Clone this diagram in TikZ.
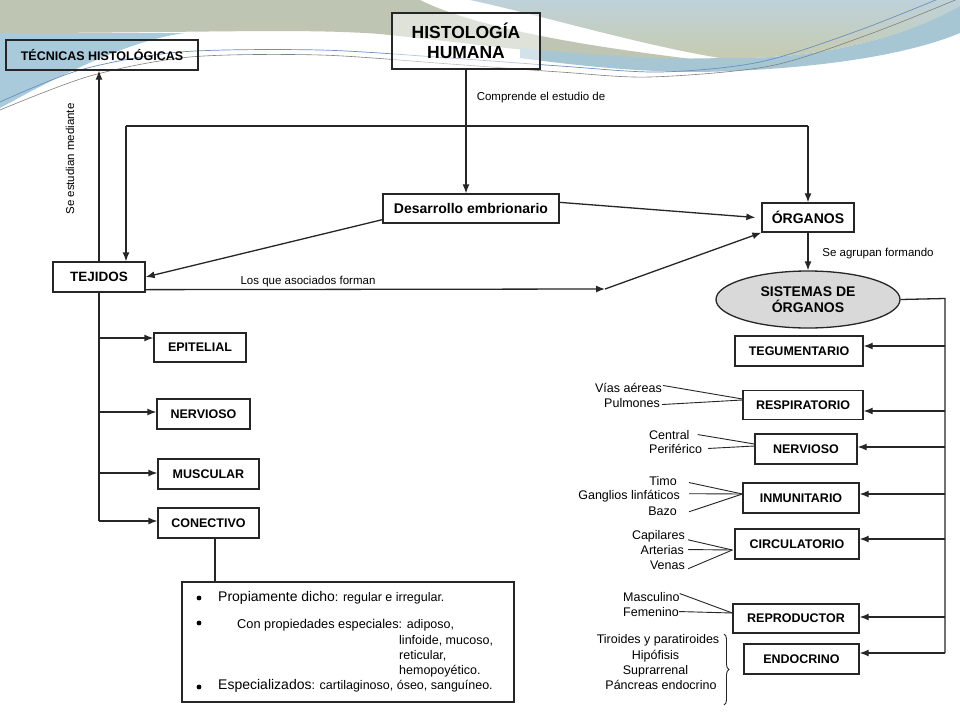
\documentclass[tikz,border=0pt]{standalone}
\usepackage{fontspec}
\setmainfont{Liberation Sans}
\usetikzlibrary{arrows.meta,shapes.geometric,decorations.pathreplacing,calc}
\definecolor{bggray}{HTML}{BEC5B2}
\definecolor{bgtop}{HTML}{BFD2DA}
\definecolor{bgbot}{HTML}{C6CBAE}
\definecolor{bgblue}{HTML}{A6C6D3}
\definecolor{bgleft}{HTML}{A8CADB}
\definecolor{wline}{HTML}{6B8FC0}
\begin{document}
\begin{tikzpicture}[x=1pt,y=-1pt,
  box/.style={draw=black!85, line width=1.3pt, fill=white, inner sep=0pt, align=center,
    font=\bfseries\fontsize{12.5}{14}\selectfont},
  arr/.style={-{Latex[length=9pt,width=7pt]}, line width=1.3pt, draw=black!85},
  ln/.style={line width=1.3pt, draw=black!85},
  thinln/.style={line width=0.9pt, draw=black!85},
  lbl/.style={inner sep=0pt, font=\fontsize{11.5}{13}\selectfont},
  sub/.style={inner sep=0pt, font=\fontsize{12.5}{14}\selectfont}]
\useasboundingbox (0,0) rectangle (960,720);
\fill[white] (0,0) rectangle (960,720);
% background decoration
\fill[bggray] (0,0) -- (420,0) .. controls (480,30) and (600,48) .. (700,60)
  .. controls (600,62) and (480,44) .. (380,34) .. controls (300,28) and (200,33) .. (0,33) -- cycle;
\shade[top color=bgtop, bottom color=bgbot] (470,0) -- (960,0) -- (960,6)
  .. controls (890,45) and (800,60) .. (720,58) .. controls (640,45) and (540,15) .. (470,0) -- cycle;
\fill[bgblue] (520,48) .. controls (600,56) and (660,60) .. (720,58) .. controls (800,60) and (890,45) .. (960,6)
  -- (960,33) .. controls (900,58) and (800,70) .. (700,72) .. controls (640,72) and (580,66) .. (520,58) -- cycle;
\fill[bgleft] (0,33) -- (185,33) .. controls (130,40) and (60,75) .. (0,108) -- cycle;
\draw[wline, line width=0.7pt] plot[smooth] coordinates {(0,102) (80,70) (180,52) (320,50) (450,58) (560,66) (660,72) (760,62) (860,30) (965,-12)};
\draw[gray, line width=0.6pt] plot[smooth] coordinates {(0,110) (90,76) (190,57) (320,55) (450,64) (560,72) (650,77) (770,66) (870,34) (965,-4)};

% main nodes
\node[box, minimum width=148pt, minimum height=56pt, fill opacity=0.5, text opacity=1,
  font=\bfseries\fontsize{17.5}{20.5}\selectfont] (hist) at (466,41) {HISTOLOGÍA\\HUMANA};
\node[box, fill=none, minimum width=192pt, minimum height=30pt] (tec) at (102,55) {TÉCNICAS HISTOLÓGICAS};
\node[box, minimum width=176pt, minimum height=29pt, font=\bfseries\fontsize{14}{16}\selectfont] (des) at (471,208.5) {Desarrollo embrionario};
\node[box, minimum width=92pt, minimum height=29pt, font=\bfseries\fontsize{14}{16}\selectfont] (org) at (808,217.5) {ÓRGANOS};
\node[box, minimum width=92pt, minimum height=30pt, font=\bfseries\fontsize{13.5}{16}\selectfont] (tej) at (99,277) {TEJIDOS};
\node[ellipse, draw=black!85, line width=1.3pt, fill=black!15, minimum width=184pt, minimum height=57pt,
  inner sep=0pt, align=center, font=\bfseries\fontsize{14}{16.5}\selectfont] (sis) at (808,299.5) {SISTEMAS DE\\ÓRGANOS};

% tejidos
\node[box, minimum width=92pt, minimum height=29pt] (epi) at (200,347.5) {EPITELIAL};
\node[box, minimum width=93pt, minimum height=30pt] (nerA) at (203.5,414) {NERVIOSO};
\node[box, minimum width=101pt, minimum height=30pt] (mus) at (208.5,474) {MUSCULAR};
\node[box, minimum width=101pt, minimum height=30pt] (con) at (208.5,523) {CONECTIVO};

% sistemas
\node[box, minimum width=128pt, minimum height=30pt] (teg) at (799,351) {TEGUMENTARIO};
\node[box, minimum width=120pt, minimum height=29pt] (resp) at (803,405) {RESPIRATORIO};
\node[box, minimum width=102pt, minimum height=30pt] (nerB) at (806,449) {NERVIOSO};
\node[box, minimum width=116pt, minimum height=30pt] (inm) at (801,498) {INMUNITARIO};
\node[box, minimum width=124pt, minimum height=30pt] (circ) at (797,544) {CIRCULATORIO};
\node[box, minimum width=126pt, minimum height=29pt] (repr) at (796,618.5) {REPRODUCTOR};
\node[box, minimum width=115pt, minimum height=30pt] (endo) at (801.5,659) {ENDOCRINO};

% labels
\node[lbl] (cmp) at (541,98) {Comprende el estudio de};
\node[lbl, rotate=90] (sem) at (70,159) {Se estudian mediante};
\node[lbl] (lqa) at (308,282) {Los que asociados forman};
\node[lbl] (sag) at (878,254) {Se agrupan formando};

% connectors top
\draw[arr] (tej.north) -- (tej.north |- tec.south);
\draw[arr] (hist.south) -- (hist.south |- des.north);
\coordinate (lpL) at (126,126);
\coordinate (lpR) at (808,126);
\draw[ln] (lpL) -- (lpR);
\draw[arr] (lpL) -- (lpL |- tej.north);
\draw[arr] (lpR) -- (org.north);
\draw[arr] ([yshift=4pt]des.south west) -- (tej.east);
\draw[arr] ([yshift=-9pt]des.north east) -- ([xshift=-6pt]org.west);
\coordinate (mid) at (605,289);
\draw[arr] ([yshift=3pt]tej.south east) -- (mid);
\draw[arr] (mid) -- (org.south west);
\draw[arr] (org.south) -- (sis.north);

% left column
\draw[ln] (tej.south) -- ([yshift=2pt]con.west -| tej.south);
\draw[arr] ([yshift=9.5pt]epi.west -| tej.south) -- ([yshift=9.5pt]epi.west);
\draw[arr] ([yshift=2pt]nerA.west -| tej.south) -- ([yshift=2pt]nerA.west);
\draw[arr] ([yshift=1pt]mus.west -| tej.south) -- ([yshift=1pt]mus.west);
\draw[arr] ([yshift=2pt]con.west -| tej.south) -- ([yshift=2pt]con.west);

% conectivo list
\node[draw=black!85, line width=1.3pt, minimum width=332pt, minimum height=120pt, inner sep=0pt] (lst) at (348,642) {};
\draw[ln] ([xshift=6.5pt]con.south) -- ([xshift=6.5pt]con.south |- lst.north);
\fill[black] (199,598) circle (2.4);
\fill[black] (199,623) circle (2.4);
\fill[black] (199,687) circle (2.4);
\node[anchor=base west, inner sep=0pt] (l1) at (218,601.5) {\fontsize{14}{16}\selectfont Propiamente dicho\fontsize{12.5}{14}\selectfont: regular e irregular.};
\node[anchor=base west, inner sep=0pt] (l2) at (237,628) {\fontsize{12.8}{15}\selectfont Con propiedades especiales\fontsize{12.5}{14}\selectfont: adiposo,};
\node[anchor=base west, sub] (l3) at (399,644) {linfoide, mucoso,};
\node[anchor=base west, sub] (l4) at (399,659) {reticular,};
\node[anchor=base west, sub] (l5) at (399,674) {hemopoyético.};
\node[anchor=base west, inner sep=0pt] (l6) at (218,689) {\fontsize{14}{16}\selectfont Especializados\fontsize{12.5}{14}\selectfont: cartilaginoso, óseo, sanguíneo.};

% right rail
\coordinate (railtop) at (945,298.5);
\coordinate (railbot) at (945,653);
\draw[ln] (sis.east) -- (railtop) -- (railbot);
\draw[arr] ([yshift=5pt]teg.east -| railtop) -- ([yshift=5pt]teg.east);
\draw[arr] ([yshift=-6pt]resp.east -| railtop) -- ([yshift=-6pt]resp.east);
\draw[arr] ([yshift=2pt]nerB.east -| railtop) -- ([yshift=2pt]nerB.east);
\draw[arr] ([yshift=4pt]inm.east -| railtop) -- ([yshift=4pt]inm.east);
\draw[arr] ([yshift=5pt]circ.east -| railtop) -- ([yshift=5pt]circ.east);
\draw[arr] ([yshift=1.5pt]repr.east -| railtop) -- ([yshift=1.5pt]repr.east);
\draw[arr] ([yshift=6pt]endo.east -| railtop) -- ([yshift=6pt]endo.east);

% sub-items
\node[sub, anchor=base east] (via) at (662,392) {Vías aéreas};
\node[sub, anchor=base east] (pul) at (660,407) {Pulmones};
\draw[thinln] ([xshift=1pt,yshift=2pt]via.east) -- ([yshift=6pt]resp.west);
\draw[thinln] ([xshift=2pt,yshift=-2pt]pul.east) -- ([yshift=5pt]resp.west);

\node[sub, anchor=base west] (cen) at (649,439) {Central};
\node[sub, anchor=base west] (per) at (649,453) {Periférico};
\draw[thinln] ([xshift=8pt]cen.east) -- ([yshift=5pt]nerB.west);
\draw[thinln] ([xshift=6pt]per.east) -- ([yshift=3pt]nerB.west);

\node[sub, anchor=base east] (tim) at (677,485) {Timo};
\node[sub, anchor=base east] (gan) at (680,499) {Ganglios linfáticos};
\node[sub, anchor=base east] (baz) at (677,515) {Bazo};
\draw[thinln] ([xshift=12pt,yshift=-2pt]tim.east) -- ([yshift=4pt]inm.west);
\draw[thinln] ([xshift=9pt,yshift=2pt]gan.east) -- ([yshift=4pt]inm.west);
\draw[thinln] ([xshift=12pt,yshift=-1pt]baz.east) -- ([yshift=4pt]inm.west);

\node[sub, anchor=base east] (cap) at (685,539) {Capilares};
\node[sub, anchor=base east] (art) at (684,554) {Arterias};
\node[sub, anchor=base east] (ven) at (685,569) {Venas};
\draw[thinln] ([xshift=3pt,yshift=-4pt]cap.east) -- ([xshift=-2pt,yshift=-6pt]circ.west);
\draw[thinln] ([xshift=4pt]art.east) -- ([xshift=-2pt,yshift=-6pt]circ.west);
\draw[thinln] ([xshift=3pt,yshift=-4pt]ven.east) -- ([xshift=-2pt,yshift=-6pt]circ.west);

\node[sub, anchor=base west] (mas) at (623,601) {Masculino};
\node[sub, anchor=base west] (fem) at (623,616) {Femenino};
\draw[thinln] ([yshift=3pt]mas.east) -- ([yshift=5.5pt]repr.west);
\draw[thinln] (fem.east) -- ([yshift=5.5pt]repr.west);

\node[sub, anchor=base] (tir) at (658,643) {Tiroides y paratiroides};
\node[sub, anchor=base] (hip) at (655.5,659) {Hipófisis};
\node[sub, anchor=base] (sup) at (655.5,674) {Suprarrenal};
\node[sub, anchor=base] (pan) at (661,689) {Páncreas endocrino};
\draw[thinln, decorate, decoration={brace, amplitude=5pt}] (724,634) -- (724,705);
\end{tikzpicture}
\end{document}
